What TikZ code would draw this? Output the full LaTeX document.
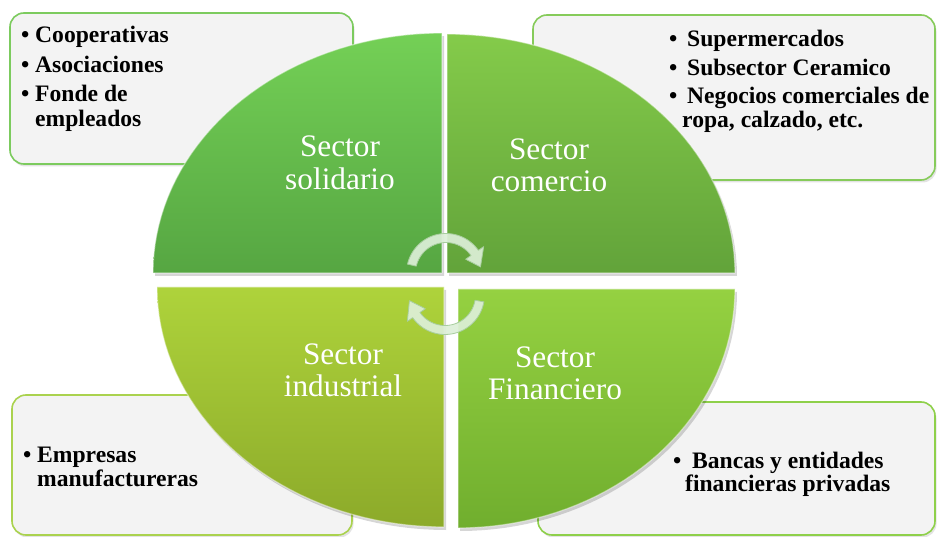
\documentclass[tikz,border=0pt]{standalone}
\usepackage{fontspec}
\setmainfont{Liberation Serif}[BoldFont={Liberation Serif Bold}]
\usetikzlibrary{shadows}

\definecolor{boxfill}{HTML}{F3F3F3}
\definecolor{edgeTL}{HTML}{7CCB5E}
\definecolor{edgeTR}{HTML}{86CB5A}
\definecolor{edgeBL}{HTML}{AAD24E}
\definecolor{edgeBR}{HTML}{8ED04A}
\definecolor{tlTop}{HTML}{74D056}
\definecolor{tlBot}{HTML}{56A642}
\definecolor{trTop}{HTML}{84CB4A}
\definecolor{trBot}{HTML}{62A33A}
\definecolor{blTop}{HTML}{AED33B}
\definecolor{blBot}{HTML}{8CAA2A}
\definecolor{brTop}{HTML}{95D141}
\definecolor{brBot}{HTML}{70AE2E}
\definecolor{arrowfill}{HTML}{DDEFD8}
\definecolor{arrowedge}{HTML}{A8CE9E}

\begin{document}
\begin{tikzpicture}[x=1pt,y=-1pt,
  boxstyle/.style={draw=#1, line width=1.6pt, fill=boxfill, rounded corners=14pt,
    inner sep=0pt, outer sep=0pt,
    drop shadow={shadow xshift=1.5pt, shadow yshift=-2.5pt, opacity=0.22}},
  item/.style={anchor=base west, inner sep=0pt,
    font=\fontsize{23.6}{26}\selectfont\bfseries, text=black},
  sector/.style={anchor=base, inner sep=0pt,
    font=\fontsize{31.3}{33}\selectfont, text=white},
  quadshadow/.style={fill=black, opacity=0.16, shift={(2,3)}},
  quadedge/.style={draw=white, draw opacity=0.45, line width=1.2pt, line join=round},
  cyclearrow/.style={fill=arrowfill, fill opacity=0.92, draw=arrowedge,
    line width=0.8pt, line join=round}
]
\useasboundingbox (0,0) rectangle (938,537);
\fill[white] (0,0) rectangle (938,537);

% ---- corner boxes ----
\node[boxstyle=edgeTL, minimum width=343pt, minimum height=151pt] (boxTL) at (181.5,88.5) {};
\node[boxstyle=edgeTR, minimum width=402pt, minimum height=165pt] (boxTR) at (734,97.5) {};
\node[boxstyle=edgeBL, minimum width=340pt, minimum height=140pt] (boxBL) at (182,465) {};
\node[boxstyle=edgeBR, minimum width=397pt, minimum height=133pt] (boxBR) at (736.5,468.5) {};

% ---- quadrant shadows ----
\fill[quadshadow] (442,273) -- plot[domain=180:270, samples=40] ({442+289*cos(\x)},{273+240*sin(\x)}) -- cycle;
\fill[quadshadow] (447,273) -- plot[domain=270:360, samples=40] ({447+288*cos(\x)},{273+239*sin(\x)}) -- cycle;
\fill[quadshadow] (444,287) -- plot[domain=90:180, samples=40] ({444+287*cos(\x)},{287+240*sin(\x)}) -- cycle;
\fill[quadshadow] (458,289) -- plot[domain=0:90, samples=40] ({458+277*cos(\x)},{289+239*sin(\x)}) -- cycle;

% ---- quadrants ----
\path[top color=tlTop, bottom color=tlBot, quadedge]
  (442,273) -- plot[domain=180:270, samples=40] ({442+289*cos(\x)},{273+240*sin(\x)}) -- cycle;
\path[top color=trTop, bottom color=trBot, quadedge]
  (447,273) -- plot[domain=270:360, samples=40] ({447+288*cos(\x)},{273+239*sin(\x)}) -- cycle;
\path[top color=blTop, bottom color=blBot, quadedge]
  (444,287) -- plot[domain=90:180, samples=40] ({444+287*cos(\x)},{287+240*sin(\x)}) -- cycle;
\path[top color=brTop, bottom color=brBot, quadedge]
  (458,289) -- plot[domain=0:90, samples=40] ({458+277*cos(\x)},{289+239*sin(\x)}) -- cycle;

% ---- sector labels ----
\node[sector] (solA) at (340,157) {Sector};
\node[sector] (solB) at (340,190) {solidario};
\node[sector] (comA) at (549,160) {Sector};
\node[sector] (comB) at (549,192) {comercio};
\node[sector] (indA) at (343,365) {Sector};
\node[sector] (indB) at (343,397) {industrial};
\node[sector] (finA) at (555,368) {Sector};
\node[sector] (finB) at (555,400) {Financiero};

% ---- cycle arrows ----
\draw[cyclearrow]
  plot[domain=193:325, samples=30] ({446+39.5*cos(\x)},{273+39.5*sin(\x)})
  -- ({446+46*cos(325)},{273+46*sin(325)})
  -- ({446+35*cos(350)},{273+35*sin(350)})
  -- ({446+24*cos(325)},{273+24*sin(325)})
  -- plot[domain=325:193, samples=30] ({446+30.5*cos(\x)},{273+30.5*sin(\x)})
  -- cycle;
\draw[cyclearrow]
  plot[domain=10:145, samples=30] ({445+39.5*cos(\x)},{295+39.5*sin(\x)})
  -- ({445+46*cos(145)},{295+46*sin(145)})
  -- ({445+36*cos(171)},{295+36*sin(171)})
  -- ({445+24*cos(145)},{295+24*sin(145)})
  -- plot[domain=145:10, samples=30] ({445+30.5*cos(\x)},{295+30.5*sin(\x)})
  -- cycle;

% ---- box texts ----
\node[item] (tl1) at (21,43)  {\makebox[14pt][l]{\textbullet}Cooperativas};
\node[item] (tl2) at (21,73)  {\makebox[14pt][l]{\textbullet}Asociaciones};
\node[item] (tl3) at (21,102) {\makebox[14pt][l]{\textbullet}Fonde de};
\node[item] (tl4) at (35,127) {empleados};

\node[item] (tr1) at (669,47)  {\makebox[18pt][l]{\textbullet}Supermercados};
\node[item] (tr2) at (669,76)  {\makebox[18pt][l]{\textbullet}Subsector Ceramico};
\node[item] (tr3) at (669,104) {\makebox[18pt][l]{\textbullet}Negocios comerciales de};
\node[item] (tr4) at (682,128) {ropa, calzado, etc.};

\node[item] (bl1) at (23,463) {\makebox[14pt][l]{\textbullet}Empresas};
\node[item] (bl2) at (37,486) {manufactureras};

\node[item] (br1) at (673,468) {\makebox[19pt][l]{\textbullet}Bancas y entidades};
\node[item] (br2) at (685,491) {financieras privadas};
\end{tikzpicture}
\end{document}
